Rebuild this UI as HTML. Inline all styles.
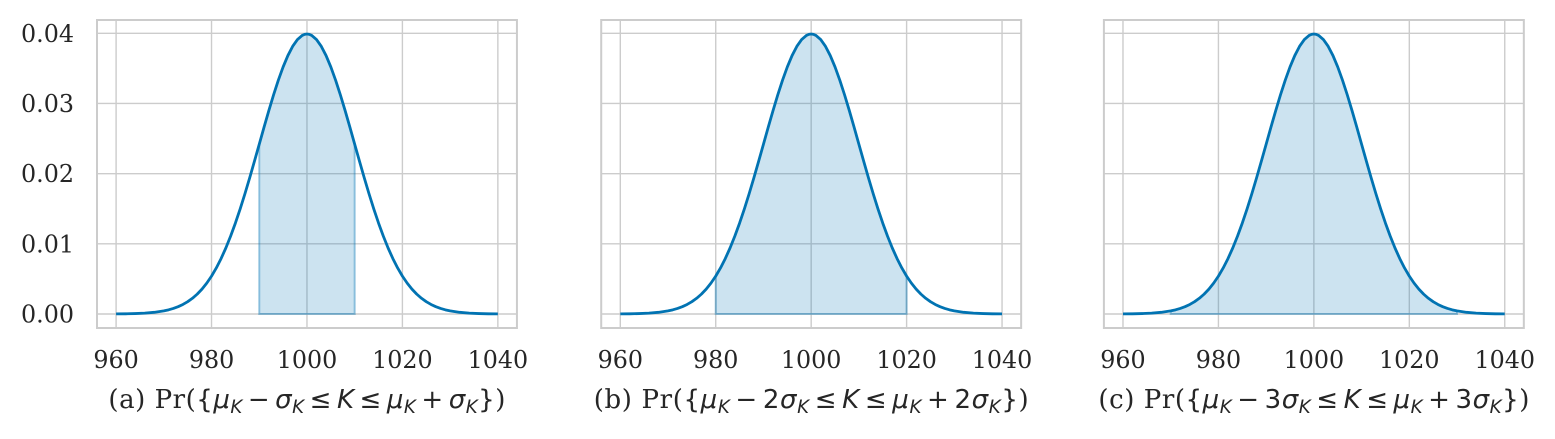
<!DOCTYPE html>
<html>
<head>
<meta charset="utf-8">
<style>
  html, body { margin: 0; padding: 0; background: #ffffff; }
  svg { display: block; }
  .tick { font-family: "DejaVu Serif", "Liberation Serif", serif; font-size: 23.8px; fill: #262626; }
  .cap { font-size: 26px; fill: #262626; }
  .ser { font-family: "DejaVu Serif", "Liberation Serif", serif; }
  .san { font-family: "DejaVu Sans", "Liberation Sans", sans-serif; }
  .it { font-style: italic; }
  .grid { stroke: #cccccc; stroke-width: 1.4; fill: none; vector-effect: non-scaling-stroke; }
  .spine { stroke: #cccccc; stroke-width: 2; fill: none; vector-effect: non-scaling-stroke; }
  .area { fill: rgba(1,115,178,0.2); stroke: rgba(1,115,178,0.38); stroke-width: 2; vector-effect: non-scaling-stroke; }
</style>
</head>
<body>
<svg width="1555" height="439" viewBox="0 0 1555 439" xmlns="http://www.w3.org/2000/svg">
  <rect x="0" y="0" width="1555" height="439" fill="#ffffff"/>
  <defs>
    <path id="pdf" vector-effect="non-scaling-stroke" stroke="#0173B2" stroke-width="2.8" fill="none" stroke-linejoin="round" d="M-40 .0134 L-38 .0292 -36 .0612 -34 .123 -32 .238 -30 .443 -29 .595 -28 .792 -27 1.042 -26 1.358 -25 1.753 -24 2.239 -23 2.833 -22 3.547 -21 4.398 -20 5.399 -19 6.562 -18 7.895 -17 9.405 -16 11.092 -15 12.952 -14 14.973 -13 17.137 -12 19.419 -11 21.785 -10 24.197 -9 26.608 -8 28.969 -7 31.225 -6 33.322 -5 35.206 -4 36.827 -3 38.139 -2 39.104 -1 39.695 -0.5 39.844 0 39.894 0.5 39.844 1 39.695 2 39.104 3 38.139 4 36.827 5 35.206 6 33.322 7 31.225 8 28.969 9 26.608 10 24.197 11 21.785 12 19.419 13 17.137 14 14.973 15 12.952 16 11.092 17 9.405 18 7.895 19 6.562 20 5.399 21 4.398 22 3.547 23 2.833 24 2.239 25 1.753 26 1.358 27 1.042 28 .792 29 .595 30 .443 32 .238 34 .123 36 .0612 38 .0292 40 .0134"/>
    <g id="gridlines">
      <path class="grid" d="M-40 -1.9947 V41.889 M-20 -1.9947 V41.889 M0 -1.9947 V41.889 M20 -1.9947 V41.889 M40 -1.9947 V41.889"/>
      <path class="grid" d="M-44 0 H44 M-44 10 H44 M-44 20 H44 M-44 30 H44 M-44 40 H44"/>
    </g>
    <rect id="frame" class="spine" x="-44" y="-1.9947" width="88" height="43.8837"/>
  </defs>

  <!-- Panel A -->
  <g transform="matrix(4.772 0 0 -7.0175 306.97 314)">
    <use href="#gridlines"/>
    <path class="area" d="M-10 0 L-10 24.197 -9 26.608 -8 28.969 -7 31.225 -6 33.322 -5 35.206 -4 36.827 -3 38.139 -2 39.104 -1 39.695 0 39.894 1 39.695 2 39.104 3 38.139 4 36.827 5 35.206 6 33.322 7 31.225 8 28.969 9 26.608 10 24.197 10 0Z"/>
    <use href="#pdf"/>
    <use href="#frame"/>
  </g>

  <!-- Panel B -->
  <g transform="matrix(4.772 0 0 -7.0175 811.17 314)">
    <use href="#gridlines"/>
    <path class="area" d="M-20 0 L-20 5.399 -19 6.562 -18 7.895 -17 9.405 -16 11.092 -15 12.952 -14 14.973 -13 17.137 -12 19.419 -11 21.785 -10 24.197 -9 26.608 -8 28.969 -7 31.225 -6 33.322 -5 35.206 -4 36.827 -3 38.139 -2 39.104 -1 39.695 0 39.894 1 39.695 2 39.104 3 38.139 4 36.827 5 35.206 6 33.322 7 31.225 8 28.969 9 26.608 10 24.197 11 21.785 12 19.419 13 17.137 14 14.973 15 12.952 16 11.092 17 9.405 18 7.895 19 6.562 20 5.399 20 0Z"/>
    <use href="#pdf"/>
    <use href="#frame"/>
  </g>

  <!-- Panel C -->
  <g transform="matrix(4.772 0 0 -7.0175 1313.87 314)">
    <use href="#gridlines"/>
    <path class="area" d="M-30 0 L-30 .443 -29 .595 -28 .792 -27 1.042 -26 1.358 -25 1.753 -24 2.239 -23 2.833 -22 3.547 -21 4.398 -20 5.399 -19 6.562 -18 7.895 -17 9.405 -16 11.092 -15 12.952 -14 14.973 -13 17.137 -12 19.419 -11 21.785 -10 24.197 -9 26.608 -8 28.969 -7 31.225 -6 33.322 -5 35.206 -4 36.827 -3 38.139 -2 39.104 -1 39.695 0 39.894 1 39.695 2 39.104 3 38.139 4 36.827 5 35.206 6 33.322 7 31.225 8 28.969 9 26.608 10 24.197 11 21.785 12 19.419 13 17.137 14 14.973 15 12.952 16 11.092 17 9.405 18 7.895 19 6.562 20 5.399 21 4.398 22 3.547 23 2.833 24 2.239 25 1.753 26 1.358 27 1.042 28 .792 29 .595 30 .443 30 0Z"/>
    <use href="#pdf"/>
    <use href="#frame"/>
  </g>

  <!-- Y tick labels (panel A only) -->
  <g class="tick" text-anchor="end">
    <text x="74" y="322.5">0.00</text>
    <text x="74" y="252.3">0.01</text>
    <text x="74" y="182.1">0.02</text>
    <text x="74" y="112.0">0.03</text>
    <text x="74" y="41.8">0.04</text>
  </g>

  <!-- X tick labels -->
  <g class="tick" text-anchor="middle">
    <text x="116.09" y="368">960</text>
    <text x="211.53" y="368">980</text>
    <text x="306.97" y="368">1000</text>
    <text x="402.41" y="368">1020</text>
    <text x="497.85" y="368">1040</text>

    <text x="620.29" y="368">960</text>
    <text x="715.73" y="368">980</text>
    <text x="811.17" y="368">1000</text>
    <text x="906.61" y="368">1020</text>
    <text x="1002.05" y="368">1040</text>

    <text x="1122.99" y="368">960</text>
    <text x="1218.43" y="368">980</text>
    <text x="1313.87" y="368">1000</text>
    <text x="1409.31" y="368">1020</text>
    <text x="1504.75" y="368">1040</text>
  </g>

  <!-- Captions -->
  <text class="cap" x="306.9" y="408" text-anchor="middle" textLength="397" lengthAdjust="spacing"><tspan class="ser">(a) Pr(</tspan><tspan class="san">{</tspan><tspan class="san it">μ</tspan><tspan class="san it" font-size="18.2" dy="5">K</tspan><tspan class="san" dy="-5" dx="5">−</tspan><tspan class="san it" dx="5">σ</tspan><tspan class="san it" font-size="18.2" dy="5">K</tspan><tspan class="san" dy="-5" dx="5">≤</tspan><tspan class="san it" dx="5">K</tspan><tspan class="san" dx="5">≤</tspan><tspan class="san it" dx="5">μ</tspan><tspan class="san it" font-size="18.2" dy="5">K</tspan><tspan class="san" dy="-5" dx="5">+</tspan><tspan class="san it" dx="5">σ</tspan><tspan class="san it" font-size="18.2" dy="5">K</tspan><tspan class="san" dy="-5">}</tspan><tspan class="ser">)</tspan></text>

  <text class="cap" x="811.2" y="408" text-anchor="middle" textLength="435" lengthAdjust="spacing"><tspan class="ser">(b) Pr(</tspan><tspan class="san">{</tspan><tspan class="san it">μ</tspan><tspan class="san it" font-size="18.2" dy="5">K</tspan><tspan class="san" dy="-5" dx="5">−</tspan><tspan class="san" dx="5">2</tspan><tspan class="san it">σ</tspan><tspan class="san it" font-size="18.2" dy="5">K</tspan><tspan class="san" dy="-5" dx="5">≤</tspan><tspan class="san it" dx="5">K</tspan><tspan class="san" dx="5">≤</tspan><tspan class="san it" dx="5">μ</tspan><tspan class="san it" font-size="18.2" dy="5">K</tspan><tspan class="san" dy="-5" dx="5">+</tspan><tspan class="san" dx="5">2</tspan><tspan class="san it">σ</tspan><tspan class="san it" font-size="18.2" dy="5">K</tspan><tspan class="san" dy="-5">}</tspan><tspan class="ser">)</tspan></text>

  <text class="cap" x="1313.9" y="408" text-anchor="middle" textLength="431" lengthAdjust="spacing"><tspan class="ser">(c) Pr(</tspan><tspan class="san">{</tspan><tspan class="san it">μ</tspan><tspan class="san it" font-size="18.2" dy="5">K</tspan><tspan class="san" dy="-5" dx="5">−</tspan><tspan class="san" dx="5">3</tspan><tspan class="san it">σ</tspan><tspan class="san it" font-size="18.2" dy="5">K</tspan><tspan class="san" dy="-5" dx="5">≤</tspan><tspan class="san it" dx="5">K</tspan><tspan class="san" dx="5">≤</tspan><tspan class="san it" dx="5">μ</tspan><tspan class="san it" font-size="18.2" dy="5">K</tspan><tspan class="san" dy="-5" dx="5">+</tspan><tspan class="san" dx="5">3</tspan><tspan class="san it">σ</tspan><tspan class="san it" font-size="18.2" dy="5">K</tspan><tspan class="san" dy="-5">}</tspan><tspan class="ser">)</tspan></text>
</svg>
</body>
</html>
